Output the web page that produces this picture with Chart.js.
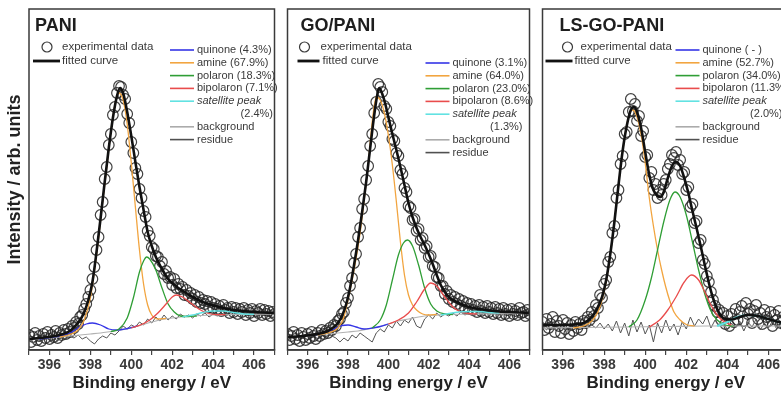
<!DOCTYPE html>
<html>
<head>
<meta charset="utf-8">
<script src="https://cdn.jsdelivr.net/npm/chart.js@4.4.1/dist/chart.umd.min.js"></script>
<style>
  html, body { margin: 0; padding: 0; background: #fff; overflow: hidden; }
  #wrap { position: relative; width: 781px; height: 395px; overflow: hidden; }
  #wrap canvas { position: absolute; top: 0; }
</style>
</head>
<body>
<div id="wrap">
  <canvas id="pani" width="281" height="395" style="left:0px"></canvas>
  <canvas id="gopani" width="255" height="395" style="left:281px"></canvas>
  <canvas id="lsgopani" width="260" height="395" style="left:536px"></canvas>
</div>
<script>
// N 1s spectra, intensity in arbitrary units
const eStart = 395.0;   // first channel of the measured spectra (eV)
const eStep = 0.1;      // measured spectra step
const resStep = 0.2;    // residue step

const componentNames = ["quinone", "amine", "polaron", "bipolaron", "satellite peak"];
const paniShares = ["4.3%", "67.9%", "18.3%", "7.1%", "2.4%"];
const goPaniShares = ["3.1%", "64.0%", "23.0%", "8.6%", "1.3%"];
const lsGoPaniShares = [" - ", "52.7%", "34.0%", "11.3%", "2.0%"];

// ---- PANI ----
const paniExp = [
  15, 8, 13, 17, 10, 14, 9, 16, 12, 18,
  11, 15, 13, 19, 12, 17, 15, 20, 16, 21,
  18, 24, 22, 28, 26, 33, 35, 41, 46, 53,
  60, 71, 83, 100, 113, 135, 148, 171, 183, 205,
  216, 235, 243, 257, 264, 263, 255, 251, 236, 227,
  208, 197, 182, 176, 161, 152, 139, 133, 119, 114,
  103, 101, 94, 93, 84, 88, 76, 79, 72, 73,
  65, 71, 62, 66, 61, 63, 55, 60, 54, 57,
  51, 55, 48, 53, 47, 50, 46, 49, 43, 48,
  42, 46, 41, 44, 39, 45, 40, 42, 37, 43,
  38, 42, 36, 41, 38, 42, 35, 40, 37, 41,
  34, 39, 37, 41, 35, 40, 36, 39, 34, 38,
  36
];
const paniResidue = [
  12, 7, 11, 8, 13, 10, 12, 9, 13, 11,
  14, 12, 15, 11, 13, 9, 6, 11, 14, 12,
  17, 15, 19, 24, 21, 25, 23, 28, 25, 31,
  27, 33, 29, 35, 30, 34, 31, 36, 33, 35,
  32, 36, 34, 37, 33, 36, 34, 37, 35, 38,
  34, 37, 35, 38, 35, 37, 34, 38, 35, 37,
  36
];
const paniFit = [[395.0,11],[395.5,12],[396.0,13],[396.5,15],[397.0,19],[397.3,25],[397.5,30],[397.7,38],[397.9,50],[398.1,68],[398.3,98],[398.5,132],[398.7,168],[398.9,202],[399.1,232],[399.3,254],[399.45,262],[399.6,257],[399.8,238],[400.0,214],[400.2,188],[400.4,163],[400.6,140],[400.8,118],[401.0,104],[401.2,93],[401.5,81],[401.8,71],[402.0,67],[402.3,62],[402.6,58],[403.0,53],[403.5,48],[404.0,44.5],[404.5,42],[405.0,40],[406.0,38],[407.0,37]];
const paniBackground = [[395,10],[396,12],[397,14],[398,16],[398.5,17],[399,18.5],[399.5,20],[400,22],[400.5,25],[401,28],[401.5,30.5],[402,32],[403,34],[404,35],[405,35.5],[407,36]];
const paniQuinone = [[395.5,11],[396.0,12.5],[396.5,14],[397.0,17],[397.4,22],[397.8,26],[398.1,27],[398.5,25],[398.9,21],[399.3,20],[399.8,21.5],[400.3,24]];
const paniAmine = [[396.5,13],[397.0,15.5],[397.4,20],[397.7,30],[398.0,52],[398.3,95],[398.6,148],[398.8,183],[399.0,218],[399.2,245],[399.4,257],[399.6,250],[399.8,226],[400.0,187],[400.2,143],[400.4,100],[400.6,66],[400.8,45],[401.0,35],[401.3,31],[401.7,31.5]];
const paniPolaron = [[399.0,18.5],[399.4,21],[399.8,32],[400.1,52],[400.4,78],[400.6,89],[400.75,93],[400.9,91],[401.2,80],[401.5,62],[401.8,46],[402.1,38],[402.4,34],[402.8,33.5],[403.2,34]];
const paniBipolaron = [[400.0,22],[400.5,25.5],[400.9,30],[401.3,37],[401.7,46],[402.0,53],[402.2,55],[402.5,53],[402.9,47],[403.3,41],[403.7,37],[404.2,35.3],[404.6,35.3]];
const paniSatellite = [[402.5,33],[403.0,35],[403.5,37.5],[404.0,39],[404.5,39],[405.0,37.5],[405.5,36],[406.0,35.7]];

// ---- GO/PANI ----
const goPaniExp = [
  16, 10, 14, 18, 11, 15, 9, 17, 13, 10,
  16, 12, 18, 14, 11, 17, 14, 20, 16, 19,
  17, 22, 20, 25, 24, 29, 31, 36, 38, 47,
  52, 64, 72, 87, 96, 113, 122, 141, 151, 170,
  184, 204, 216, 237, 248, 266, 263, 258, 244, 241,
  228, 224, 211, 209, 197, 194, 180, 176, 162, 158,
  144, 142, 130, 131, 119, 121, 110, 112, 102, 104,
  93, 94, 84, 83, 73, 72, 64, 64, 56, 59,
  51, 55, 48, 53, 46, 51, 44, 49, 42, 47,
  41, 46, 40, 44, 38, 45, 39, 43, 37, 44,
  38, 42, 36, 43, 37, 41, 35, 42, 36, 40,
  34, 41, 36, 39, 35, 42, 37, 38, 34, 40,
  36
];
const goPaniResidue = [
  14, 11, 15, 12, 16, 13, 17, 14, 17, 15,
  18, 14, 12, 8, 12, 9, 15, 12, 17, 14,
  11, 8, 17, 21, 18, 25, 22, 29, 24, 30,
  27, 33, 24, 22, 31, 35, 31, 37, 33, 36,
  34, 37, 34, 38, 35, 37, 34, 38, 35, 37,
  36, 38, 35, 37, 36, 38, 35, 37, 36, 38,
  36
];
const goPaniFit = [[395.0,13],[395.5,13.5],[396.0,14.5],[396.5,16],[397.0,19],[397.3,23],[397.5,27],[397.7,34],[397.9,45],[398.1,62],[398.3,85],[398.5,110],[398.7,138],[398.9,168],[399.1,202],[399.3,235],[399.45,255],[399.55,262],[399.7,256],[399.85,246],[400.0,233],[400.2,216],[400.4,200],[400.6,183],[400.8,165],[401.0,147],[401.2,133],[401.4,122],[401.6,113],[401.8,105],[402.0,96],[402.2,86],[402.4,75],[402.6,65],[402.8,58],[403.0,53],[403.3,49],[403.6,46],[404.0,43],[404.5,41],[405.0,39.5],[405.5,38.5],[406.0,38],[407.0,37]];
const goPaniBackground = [[395,13],[396,14],[397,16],[398,18],[398.5,19],[399,21],[399.5,23],[400,26],[400.5,29],[401,31],[401.5,33],[402,34.5],[403,35.5],[404,36],[407,36.5]];
const goPaniQuinone = [[396.0,14.5],[396.6,16],[397.2,20],[397.7,24.5],[398.0,25],[398.4,23],[398.8,21],[399.2,22],[399.6,23.5],[400.0,26]];
const goPaniAmine = [[396.5,15],[397.0,17],[397.5,22],[397.8,33],[398.0,50],[398.3,80],[398.6,117],[398.8,150],[399.0,185],[399.2,228],[399.4,253],[399.6,250],[399.8,237],[400.0,215],[400.2,185],[400.4,148],[400.6,108],[400.8,75],[401.0,55],[401.2,45],[401.4,40],[401.7,36],[402.0,35],[402.4,35.5]];
const goPaniPolaron = [[399.2,22],[399.6,30],[399.9,45],[400.2,70],[400.5,95],[400.75,107],[400.95,110],[401.2,104],[401.5,85],[401.8,62],[402.1,46],[402.4,39],[402.8,36],[403.2,35.5]];
const goPaniBipolaron = [[400.0,26],[400.5,30],[401.0,37],[401.4,48],[401.8,61],[402.1,67],[402.4,64],[402.8,53],[403.2,43],[403.6,38],[404.0,36.5],[404.4,36]];
const goPaniSatellite = [[402.6,35],[403.0,36.5],[403.5,38],[404.0,38.5],[404.5,38.5],[405.0,37.5],[405.5,37]];

// ---- LS-GO-PANI ----
const lsGoPaniExp = [
  28, 20, 31, 22, 26, 33, 18, 29, 24, 17,
  30, 21, 27, 16, 25, 19, 28, 22, 26, 20,
  29, 27, 33, 30, 38, 34, 45, 42, 55, 52,
  66, 70, 88, 93, 117, 124, 152, 160, 186, 194,
  216, 218, 238, 251, 239, 246, 229, 234, 214, 219,
  193, 195, 172, 178, 160, 166, 152, 160, 155, 166,
  170, 181, 186, 195, 192, 198, 185, 190, 176, 178,
  160, 163, 143, 146, 127, 129, 107, 110, 90, 86,
  74, 68, 58, 50, 44, 38, 40, 30, 37, 26,
  34, 24, 36, 28, 41, 30, 38, 44, 29, 47,
  36, 41, 27, 39, 45, 31, 37, 26, 40, 33,
  29, 38, 24, 35, 30, 39, 27, 33, 25, 31,
  28
];
const lsGoPaniResidue = [
  24, 20, 26, 21, 25, 22, 27, 20, 25, 22,
  26, 23, 25, 22, 27, 21, 26, 19, 29, 17,
  27, 14, 30, 18, 28, 16, 25, 8, 27, 17,
  30, 19, 26, 15, 28, 21, 33, 24, 31, 26,
  34, 22, 30, 24, 28, 20, 27, 22, 29, 19,
  28, 23, 31, 20, 27, 22, 29, 21, 26, 23,
  27
];
const lsGoPaniFit = [[395.0,25],[396.0,25],[396.5,25.5],[397.0,27],[397.3,31],[397.6,39],[397.9,53],[398.1,70],[398.3,96],[398.5,128],[398.7,165],[398.9,199],[399.1,224],[399.3,240],[399.45,243],[399.6,238],[399.8,222],[400.0,198],[400.2,175],[400.4,160],[400.6,154],[400.75,153],[400.9,158],[401.1,172],[401.3,184],[401.5,188],[401.7,184],[401.9,172],[402.1,157],[402.3,139],[402.5,122],[402.7,104],[402.9,85],[403.1,67],[403.3,52],[403.5,41],[403.7,34],[403.9,31],[404.2,30.5],[404.6,33],[405.0,35],[405.5,34],[406.0,31],[406.5,28],[407.0,26]];
const lsGoPaniBackground = [[395,22],[397,22.5],[399,23],[401,23.5],[403,24],[407,24]];
const lsGoPaniQuinone = [];
const lsGoPaniAmine = [[396.5,22],[397.0,24],[397.4,29],[397.7,38],[397.9,50],[398.1,68],[398.3,95],[398.5,128],[398.7,165],[398.9,198],[399.1,225],[399.3,239],[399.4,240],[399.6,233],[399.8,215],[400.0,187],[400.2,152],[400.4,124],[400.6,100],[400.8,80],[401.0,63],[401.2,49],[401.4,38],[401.7,30],[402.0,25.5],[402.4,24]];
const lsGoPaniPolaron = [[399.2,23],[399.6,30],[400.0,50],[400.3,72],[400.6,100],[400.9,128],[401.2,150],[401.45,158],[401.7,153],[402.0,135],[402.3,108],[402.6,80],[402.9,56],[403.2,39],[403.5,30],[403.9,25],[404.3,23.8]];
const lsGoPaniBipolaron = [[400.2,23],[400.7,30],[401.1,40],[401.5,53],[401.9,68],[402.25,75],[402.6,70],[402.9,58],[403.2,45],[403.5,35],[403.8,29],[404.2,25]];
const lsGoPaniSatellite = [[403.5,24],[404.0,28],[404.5,33],[405.0,35],[405.5,34],[406.0,31],[406.5,28],[407.0,26]];

const FONT = '"Liberation Sans", Arial, Helvetica, sans-serif';
const componentColors = ["#3434e6", "#f2a540", "#2f9e35", "#e94c4c", "#62e2e2"];

const grid = (start, step, vals) => vals.map((v, i) => ({ x: +(start + i * step).toFixed(2), y: v }));
const pts = pairs => pairs.map(([x, y]) => ({ x, y }));

// box, title and the two legend blocks inside each panel
const panelDecor = {
  id: "panelDecor",
  afterDraw(chart, args, o) {
    const ctx = chart.ctx, a = chart.chartArea, L = a.left;
    ctx.save();
    ctx.strokeStyle = "#3a3a3a";
    ctx.lineWidth = 1.5;
    ctx.strokeRect(a.left, a.top, a.right - a.left, a.bottom - a.top);

    ctx.fillStyle = "#1e1e1e";
    ctx.textBaseline = "alphabetic";
    ctx.font = "bold 18px " + FONT;
    ctx.fillText(o.title, L + o.titleX, 31);

    // experimental data / fitted curve
    ctx.textBaseline = "middle";
    ctx.font = "11.5px " + FONT;
    ctx.fillStyle = "#3a3a3a";
    ctx.strokeStyle = "#3a3a3a";
    ctx.lineWidth = 1.2;
    ctx.beginPath();
    ctx.arc(L + o.circleX, 47, 5, 0, Math.PI * 2);
    ctx.stroke();
    ctx.fillText("experimental data", L + o.expTextX, 47);
    ctx.strokeStyle = "#111";
    ctx.lineWidth = 2.8;
    ctx.beginPath();
    ctx.moveTo(L + o.fitLine[0], 61);
    ctx.lineTo(L + o.fitLine[1], 61);
    ctx.stroke();
    ctx.fillText("fitted curve", L + o.fitTextX, 61);

    // component legend
    const rows = [];
    o.shares.forEach((s, i) => {
      if (i === 4) {
        rows.push({ text: componentNames[i], color: componentColors[i], italic: true });
        rows.push({ text: "(" + s + ")", right: true });
      } else {
        rows.push({ text: componentNames[i] + " (" + s + ")", color: componentColors[i] });
      }
    });
    rows.push({ text: "background", color: "#ababab" });
    rows.push({ text: "residue", color: "#505050" });
    rows.forEach((r, i) => {
      const y = o.rowY + i * o.rowGap;
      if (r.color) {
        ctx.strokeStyle = r.color;
        ctx.lineWidth = 1.6;
        ctx.beginPath();
        ctx.moveTo(L + o.keyX, y);
        ctx.lineTo(L + o.keyX + 24, y);
        ctx.stroke();
      }
      ctx.font = (r.italic ? "italic " : "") + "11px " + FONT;
      ctx.textAlign = r.right ? "right" : "left";
      ctx.fillText(r.text, r.right ? L + o.shareRight : L + o.keyX + 27, y);
    });
    ctx.restore();
  }
};

function buildDatasets(exp, fit, bg, residue, comps, satWidth) {
  const line = { pointRadius: 0, fill: false, cubicInterpolationMode: "monotone" };
  const sets = [
    { label: "experimental data", data: grid(eStart, eStep, exp), showLine: false,
      pointRadius: 5.3, pointStyle: "circle", pointBorderWidth: 1.2,
      pointBorderColor: "rgba(40,40,40,0.88)", pointBackgroundColor: "rgba(0,0,0,0)", order: 10 },
    { label: "residue", data: grid(eStart, resStep, residue), borderColor: "#555",
      borderWidth: 1, pointRadius: 0, order: 9 },
    Object.assign({ label: "background", data: pts(bg), borderColor: "#b2b2b2", borderWidth: 1.2, order: 8 }, line)
  ];
  comps.forEach((c, i) => {
    if (!c.length) return;
    sets.push(Object.assign({ label: componentNames[i], data: pts(c), borderColor: componentColors[i],
      borderWidth: i === 4 ? satWidth : 1.3, order: 7 - i }, line));
  });
  sets.push(Object.assign({ label: "fitted curve", data: pts(fit), borderColor: "#111", borderWidth: 2.6, order: 0 }, line));
  return sets;
}

function makePanel(id, datasets, decor, pad, withYTitle) {
  const yScale = {
    display: withYTitle, min: 0, max: 341,
    ticks: { display: false },
    grid: { display: false },
    border: { display: false },
    title: { display: true, text: "Intensity / arb. units", color: "#222",
      font: { family: FONT, size: 18, weight: "bold" }, padding: { top: 4, bottom: 0 } }
  };
  if (withYTitle) yScale.afterFit = s => { s.width = 29; };

  new Chart(document.getElementById(id), {
    type: "line",
    data: { datasets },
    plugins: [panelDecor],
    options: {
      responsive: false,
      animation: false,
      devicePixelRatio: 1,
      events: [],
      layout: { padding: { top: 9, left: pad[0], right: pad[1], bottom: 0 } },
      plugins: { legend: { display: false }, tooltip: { enabled: false }, panelDecor: decor },
      scales: {
        x: {
          type: "linear", min: 395, max: 407,
          afterFit(s) { s.height = 45; },
          ticks: {
            stepSize: 1, autoSkip: false, maxRotation: 0, padding: 2,
            color: "#3a3a3a", font: { family: FONT, size: 14, weight: "bold" },
            callback: v => (v % 2 === 0 ? String(v) : "")
          },
          grid: { display: true, drawOnChartArea: false, drawTicks: true, tickLength: 5, color: "#444", lineWidth: 1.2 },
          border: { display: true, color: "#3a3a3a", width: 1.5 },
          title: { display: true, text: "Binding energy / eV", color: "#222",
            font: { family: FONT, size: 17, weight: "bold" }, padding: { top: 0, bottom: 1 } }
        },
        y: yScale
      }
    }
  });
}

makePanel("pani",
  buildDatasets(paniExp, paniFit, paniBackground, paniResidue,
    [paniQuinone, paniAmine, paniPolaron, paniBipolaron, paniSatellite], 1.4),
  { title: "PANI", titleX: 6, circleX: 18, expTextX: 33, fitLine: [4, 31], fitTextX: 33,
    shares: paniShares, keyX: 141, rowY: 50, rowGap: 12.8, shareRight: 244 },
  [0, 3], true);

makePanel("gopani",
  buildDatasets(goPaniExp, goPaniFit, goPaniBackground, goPaniResidue,
    [goPaniQuinone, goPaniAmine, goPaniPolaron, goPaniBipolaron, goPaniSatellite], 1.4),
  { title: "GO/PANI", titleX: 13, circleX: 17, expTextX: 33, fitLine: [10, 32], fitTextX: 35,
    shares: goPaniShares, keyX: 138, rowY: 63, rowGap: 12.8, shareRight: 235 },
  [4, 3], false);

makePanel("lsgopani",
  buildDatasets(lsGoPaniExp, lsGoPaniFit, lsGoPaniBackground, lsGoPaniResidue,
    [lsGoPaniQuinone, lsGoPaniAmine, lsGoPaniPolaron, lsGoPaniBipolaron, lsGoPaniSatellite], 2.2),
  { title: "LS-GO-PANI", titleX: 17, circleX: 25, expTextX: 38, fitLine: [3, 30], fitTextX: 32,
    shares: lsGoPaniShares, keyX: 133, rowY: 50, rowGap: 12.8, shareRight: 240 },
  [4, 7], false);
</script>
</body>
</html>
